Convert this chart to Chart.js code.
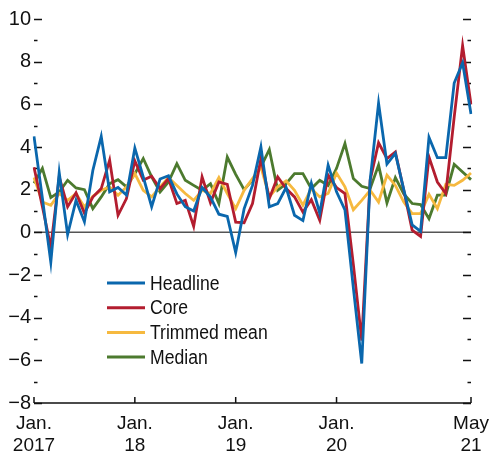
<!DOCTYPE html>
<html>
<head>
<meta charset="utf-8">
<script src="https://cdn.jsdelivr.net/npm/chart.js@4/dist/chart.umd.min.js"></script>
<style>
  html, body { margin: 0; padding: 0; background: #fff; }
  #wrap { position: relative; width: 489px; height: 457px; }
</style>
</head>
<body>
<div id="wrap"><canvas id="c" width="489" height="457"></canvas></div>
<script>
// Monthly categories, Jan 2017 – May 2021
const months = [
  "2017-01","2017-02","2017-03","2017-04","2017-05","2017-06","2017-07","2017-08","2017-09","2017-10","2017-11","2017-12",
  "2018-01","2018-02","2018-03","2018-04","2018-05","2018-06","2018-07","2018-08","2018-09","2018-10","2018-11","2018-12",
  "2019-01","2019-02","2019-03","2019-04","2019-05","2019-06","2019-07","2019-08","2019-09","2019-10","2019-11","2019-12",
  "2020-01","2020-02","2020-03","2020-04","2020-05","2020-06","2020-07","2020-08","2020-09","2020-10","2020-11","2020-12",
  "2021-01","2021-02","2021-03","2021-04","2021-05"
];

const headline = [4.5, 1.6, -1.4, 2.8, -0.1, 1.5, 0.5, 2.9, 4.5, 1.9, 2.1, 1.75,
  3.95, 2.6, 1.2, 2.5, 2.65, 1.8, 1.2, 1.0, 2.1, 1.65, 0.85, 0.75,
  -0.95, 1.1, 2.2, 4.0, 1.2, 1.35, 2.1, 0.8, 0.55, 2.3, 0.9, 3.15,
  1.9, 1.05, -2.6, -6.15, 2.45, 6.05, 3.2, 3.7, 2.0, 0.35, 0.05, 4.45,
  3.5, 3.5, 7.0, 7.95, 5.55];

const core = [3.05, 1.2, -0.7, 2.6, 1.2, 1.85, 0.9, 1.65, 2.05, 3.38, 0.8, 1.58,
  3.35, 2.45, 2.63, 2.05, 2.52, 1.35, 1.5, 0.28, 2.6, 1.38, 2.36, 2.25,
  0.48, 0.45, 1.35, 3.46, 1.58, 2.6, 2.05, 1.66, 0.95, 1.53, 0.56, 2.68,
  2.1, 1.82, -1.5, -5.07, 2.44, 4.2, 3.46, 3.77, 1.97, 0.1, -0.19, 3.53,
  2.36, 1.82, 5.4, 8.75, 6.0];

const trimmedMean = [2.57, 1.42, 1.27, 1.82, 1.5, 1.82, 1.19, 1.69, 1.97, 2.13, 1.74, 2.13,
  2.75, 1.97, 1.66, 2.13, 2.57, 2.2, 1.82, 1.5, 1.97, 1.82, 2.57, 1.82,
  1.11, 1.97, 2.52, 3.07, 1.66, 2.13, 2.41, 1.97, 1.27, 2.05, 1.66, 1.82,
  2.78, 2.13, 1.06, 1.5, 1.97, 1.42, 2.68, 2.2, 1.42, 0.88, 0.88, 1.78,
  1.11, 2.25, 2.2, 2.44, 2.78];

const median = [2.3, 3.0, 1.63, 1.89, 2.44, 2.08, 2.0, 1.11, 1.66, 2.28, 2.47, 2.13,
  2.75, 3.46, 2.6, 1.89, 2.36, 3.22, 2.44, 2.2, 1.97, 2.28, 1.35, 3.53,
  2.72, 2.0, 2.44, 3.07, 3.88, 1.97, 2.28, 2.75, 2.75, 2.05, 2.44, 2.2,
  3.0, 4.16, 2.52, 2.16, 2.05, 3.15, 1.38, 2.57, 1.8, 1.35, 1.3, 0.64,
  1.74, 1.74, 3.19, 2.83, 2.47];

const seriesNames = ["Headline", "Core", "Trimmed mean", "Median"];
const seriesColors = ["#0a67ad", "#b31d2f", "#f6b93f", "#4c7a2e"];

const xTickIndex = [0, 12, 24, 36, 52];
const xTickText = [["Jan.", "2017"], ["Jan.", "18"], ["Jan.", "19"], ["Jan.", "20"], ["May", "21"]];

const yMin = -8, yMax = 10;

const FONT = '"Liberation Sans Narrow", "Arial Narrow", "Liberation Sans", Arial, sans-serif';

const decoPlugin = {
  id: 'deco',
  beforeDatasetsDraw(chart) {
    const { ctx, chartArea: { left, right, top, bottom }, scales: { x, y } } = chart;
    ctx.save();
    // zero line
    const y0 = y.getPixelForValue(0);
    ctx.strokeStyle = '#555';
    ctx.lineWidth = 1.5;
    ctx.beginPath(); ctx.moveTo(left, y0); ctx.lineTo(right, y0); ctx.stroke();
    // y ticks on both sides (inside)
    ctx.strokeStyle = '#111';
    ctx.lineWidth = 1.5;
    for (let v = yMin; v <= yMax; v++) {
      const py = Math.round(y.getPixelForValue(v)) + 0.5;
      const len = (v % 2 === 0) ? 8 : 3.5;
      ctx.beginPath();
      ctx.moveTo(left, py); ctx.lineTo(left + len, py);
      ctx.moveTo(right, py); ctx.lineTo(right - len, py);
      ctx.stroke();
    }
    // bottom axis with upward ticks
    ctx.beginPath();
    ctx.moveTo(left, bottom); ctx.lineTo(right, bottom);
    xTickIndex.forEach(i => {
      const px = x.getPixelForValue(i);
      ctx.moveTo(px, bottom); ctx.lineTo(px, bottom - 6);
    });
    ctx.stroke();
    ctx.restore();
  },
  afterDraw(chart) {
    const { ctx, chartArea: { left, top } } = chart;
    ctx.save();
    ctx.textBaseline = 'middle';
    ctx.fillStyle = '#111';
    seriesNames.forEach((name, k) => {
      const cy = top + 264 + k * 24.7;
      ctx.strokeStyle = seriesColors[k];
      ctx.lineWidth = 3;
      ctx.beginPath(); ctx.moveTo(left + 73, cy); ctx.lineTo(left + 111, cy); ctx.stroke();
      // narrow-looking text (condensed horizontally)
      ctx.save();
      ctx.translate(left + 116, cy + 1);
      ctx.scale(0.88, 1);
      ctx.font = '20px ' + FONT;
      ctx.fillText(name, 0, 0);
      ctx.restore();
    });
    ctx.restore();
  }
};

new Chart(document.getElementById('c'), {
  type: 'line',
  data: {
    labels: months,
    datasets: [
      { label: seriesNames[0], data: headline, borderColor: seriesColors[0] },
      { label: seriesNames[1], data: core, borderColor: seriesColors[1] },
      { label: seriesNames[2], data: trimmedMean, borderColor: seriesColors[2] },
      { label: seriesNames[3], data: median, borderColor: seriesColors[3] }
    ].map(d => Object.assign(d, { borderWidth: 2.8, pointRadius: 0, tension: 0, fill: false, borderJoinStyle: 'miter' }))
  },
  options: {
    responsive: false,
    animation: false,
    layout: { padding: { top: 19, right: 18, left: 0, bottom: 0 } },
    plugins: { legend: { display: false }, tooltip: { enabled: false } },
    scales: {
      x: {
        type: 'category',
        offset: false,
        grid: { display: false, drawTicks: false },
        border: { display: false },
        ticks: {
          autoSkip: false,
          maxRotation: 0,
          minRotation: 0,
          padding: 9,
          color: '#111',
          font: { size: 19, family: FONT, lineHeight: 1.2 },
          callback: (val, idx) => {
            const k = xTickIndex.indexOf(idx);
            return k >= 0 ? xTickText[k] : '';
          }
        },
        afterFit: (s) => { s.height = 54; s.paddingLeft = 0; s.paddingRight = 0; }
      },
      y: {
        min: yMin,
        max: yMax,
        grid: { display: false, drawTicks: false },
        border: { display: false },
        ticks: {
          stepSize: 1,
          padding: 3,
          color: '#111',
          font: { size: 20, family: FONT },
          callback: (v) => (v % 2 === 0 ? (v < 0 ? '\u2212' + Math.abs(v) : String(v)) : '')
        },
        afterFit: (s) => { s.width = 34; s.paddingTop = 0; s.paddingBottom = 0; }
      }
    }
  },
  plugins: [decoPlugin]
});
</script>
</body>
</html>
